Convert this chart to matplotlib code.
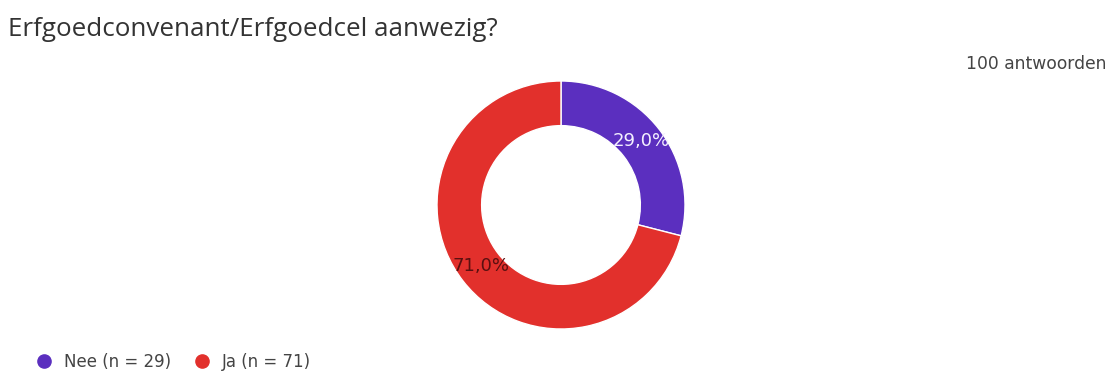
import matplotlib
matplotlib.use("Agg")
import matplotlib.pyplot as plt
from matplotlib.lines import Line2D
import numpy as np

title = "Erfgoedconvenant/Erfgoedcel aanwezig?"
total_label = "100 antwoorden"
categories = ["Nee", "Ja"]
counts = [29, 71]
colors = ["#5B2FBF", "#E2302C"]
label_colors = ["#f4f0ff", "#5a1010"]

plt.rcParams['font.family'] = ['Open Sans', 'DejaVu Sans']

fig = plt.figure(figsize=(11.14, 3.74), dpi=100)
W, H = 1114, 374
cx, cy, R = 561, 205, 124
ax = fig.add_axes([(cx - R) / W, 1 - (cy + R) / H, 2 * R / W, 2 * R / H])
total = sum(counts)
wedges, _ = ax.pie(counts, colors=colors, startangle=90, counterclock=False,
                   radius=1.0, wedgeprops=dict(width=0.36, edgecolor="white", linewidth=1))
ax.set_aspect('equal')
ax.set_xlim(-1, 1)
ax.set_ylim(-1, 1)
start = 90
for c, col in zip(counts, label_colors):
    ang = start - 360 * c / total / 2
    start -= 360 * c / total
    r = 0.82
    ax.text(r * np.cos(np.radians(ang)), r * np.sin(np.radians(ang)) + 0.01,
            f"{100 * c / total:.1f}%".replace('.', ','),
            ha='center', va='center', color=col, fontsize=13,
            family=['DejaVu Sans'])
ax.axis('off')

fig.text(8 / W, 1 - 36 / H, title, fontsize=18.7, color="#333333", va='baseline', ha='left')
fig.text(1106 / W, 1 - 69 / H, total_label, fontsize=12.3, color="#444444", va='baseline', ha='right',
         family=['DejaVu Sans'])

handles = [Line2D([], [], marker='o', linestyle='', markersize=9.5, color=col,
                  label=f"{cat} (n = {c})") for cat, c, col in zip(categories, counts, colors)]
leg = fig.legend(handles=handles, loc='center left', bbox_to_anchor=(21 / W, 1 - 362 / H),
                 ncol=2, frameon=False, handletextpad=0.65, columnspacing=1.4,
                 handlelength=1.0, prop={'family': ['DejaVu Sans'], 'size': 12})
for t in leg.get_texts():
    t.set_color("#444444")

fig.savefig("out.png", dpi=100)
